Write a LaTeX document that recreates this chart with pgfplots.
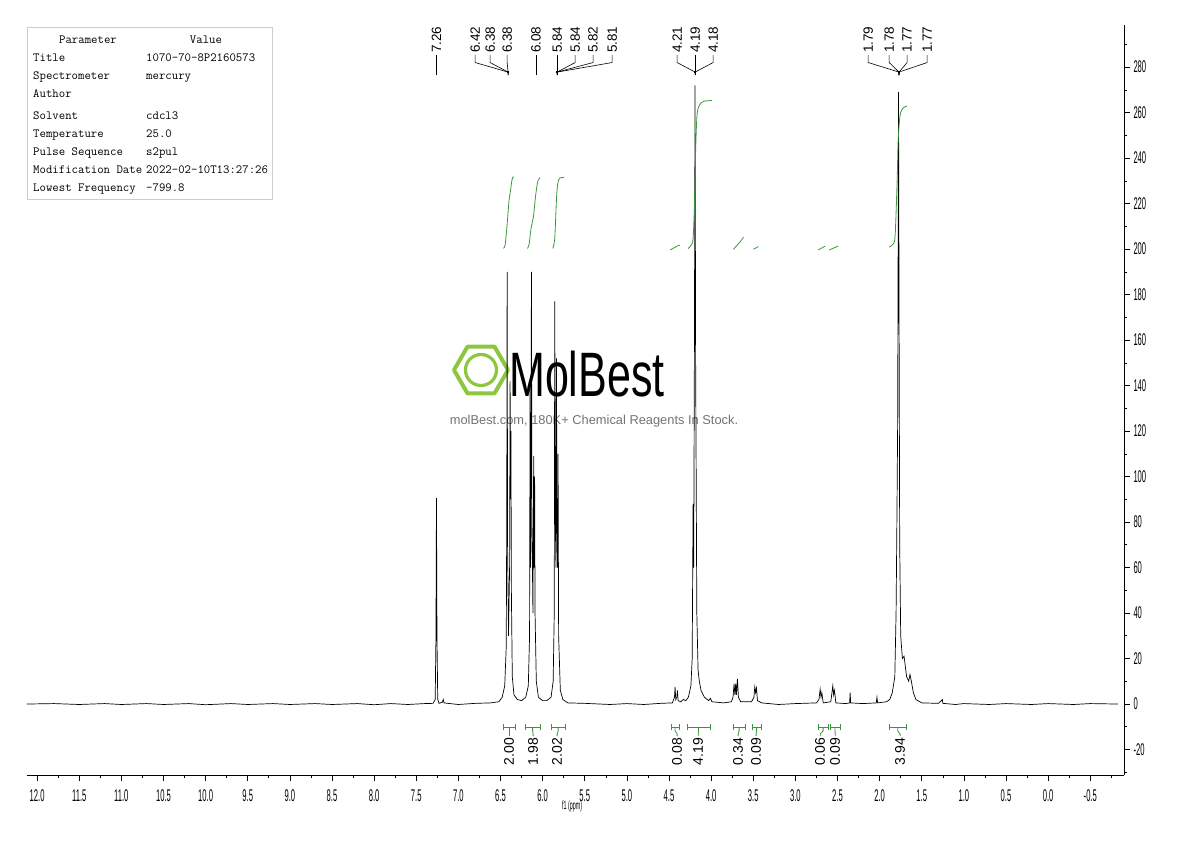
\documentclass[border=0pt]{standalone}
\usepackage{pgfplots}
\pgfplotsset{compat=1.18}
\usepackage{fontspec}
\usepackage{graphicx}
\setmainfont{Liberation Sans}
\newfontfamily\condfont[FakeStretch=0.45]{Liberation Sans}
\definecolor{intgreen}{RGB}{60,150,60}
\definecolor{logogreen}{RGB}{141,198,63}
\definecolor{tblgray}{RGB}{205,205,205}

\newcommand{\pksingle}[2]{%
  \draw[line width=0.6bp] (axis cs:#1,285.3) -- (axis cs:#1,276.5);
  \node[rotate=90, anchor=west, inner sep=0, font=\fontsize{13.5}{13.5}\selectfont] at (axis cs:#1,286.2) {#2};}
\newcommand{\pkgroup}[3]{%
  \draw[line width=0.6bp] (axis cs:#1,285.3) -- (axis cs:#1,282) -- (axis cs:#2,277.8) -- (axis cs:#2,276.5);
  \node[rotate=90, anchor=west, inner sep=0, font=\fontsize{13.5}{13.5}\selectfont] at (axis cs:#1,286.2) {#3};}
\newcommand{\integ}[5]{%
  \draw[intgreen, line width=0.8bp] (axis cs:#1,-8.8) -- (axis cs:#1,-11.4);
  \draw[intgreen, line width=0.8bp] (axis cs:#1,-10.1) -- (axis cs:#2,-10.1);
  \draw[intgreen, line width=0.8bp] (axis cs:#2,-8.8) -- (axis cs:#2,-11.4);
  \draw[intgreen, line width=0.8bp] (axis cs:#3,-10.1) -- (axis cs:#3,-11.8) -- (axis cs:#4,-13.2) -- (axis cs:#4,-14.1);
  \node[rotate=90, anchor=east, inner sep=0, font=\fontsize{14}{14}\selectfont] at (axis cs:#4,-14.8) {#5};}

\pgfplotstableread{
ppm int
12.12 0
11.80 0.2
11.50 -0.2
11.20 0.2
11.00 -0.2
10.70 0.2
10.50 -0.2
10.20 0.2
10.00 -0.3
9.70 0.2
9.50 -0.2
9.20 0.2
9.00 -0.2
8.70 0.2
8.50 -0.2
8.20 0.2
8.00 -0.3
7.80 0.2
7.60 -0.2
7.40 0.2
7.30 0.3
7.275 2
7.266 30
7.260 90.5
7.254 30
7.245 2
7.23 0.3
7.19 0.8
7.18 2
7.17 0.5
7.10 0.2
7.00 -0.2
6.80 0.3
6.62 0.5
6.52 1
6.48 3
6.45 8
6.432 25
6.426 80
6.421 190
6.416 70
6.405 30
6.392 60
6.386 142
6.381 90
6.376 120
6.371 50
6.36 12
6.34 4
6.30 2
6.25 1.5
6.20 3
6.17 8
6.155 30
6.149 140
6.143 60
6.138 100
6.133 190
6.127 80
6.115 40
6.106 109
6.101 60
6.095 100
6.090 40
6.075 10
6.05 3
6.00 1.5
5.95 1.5
5.90 3
5.875 10
5.862 40
5.856 177
5.849 80
5.842 60
5.836 152
5.830 80
5.823 60
5.817 110
5.810 30
5.79 6
5.76 2
5.70 0.5
5.50 0.3
5.20 -0.2
5.00 0.2
4.80 -0.2
4.60 0.3
4.46 0.5
4.435 3
4.428 7.5
4.420 2
4.407 3
4.400 6
4.392 1.5
4.36 1
4.33 2
4.30 1.5
4.27 3
4.24 8
4.225 20
4.214 88
4.207 60
4.199 150
4.191 272
4.184 150
4.178 104
4.170 40
4.155 15
4.140 10
4.120 6
4.080 3
4.030 1.5
4.010 2.5
3.990 1
3.85 0.5
3.76 1
3.74 3
3.728 9
3.718 4
3.708 9
3.700 4
3.688 11
3.676 3
3.65 1
3.52 1
3.492 3
3.482 7.5
3.472 5
3.462 7
3.450 1.5
3.40 0.5
3.20 -0.2
3.00 0.2
2.75 0.5
2.72 2
2.706 6.5
2.696 3
2.686 5
2.67 0.5
2.58 1
2.566 5
2.556 8
2.546 4
2.536 6
2.52 0.5
2.40 0.2
2.356 0.5
2.350 5
2.344 0.5
2.20 0.2
2.040 0.5
2.032 3
2.024 0.5
1.92 1
1.88 2
1.85 5
1.82 12
1.805 40
1.795 81
1.786 125
1.776 269
1.768 150
1.762 70
1.750 30
1.730 20
1.710 21
1.700 18
1.680 12
1.655 10
1.640 13
1.626 10.5
1.600 5
1.570 2
1.50 0.5
1.30 0.3
1.256 2
1.250 0.3
1.10 -0.2
1.00 0.2
0.70 -0.2
0.50 0.2
0.20 -0.2
0.00 0.2
-0.30 -0.2
-0.50 0.2
-0.83 0
}\spectrum

\begin{document}
\begin{tikzpicture}
\path[use as bounding box] (0,0) rectangle (1190bp,-841bp);

\begin{scope}[x=1bp,y=-1bp]
  % watermark
  \draw[logogreen, line width=4bp, line join=round] (481,370) +(0:27) -- +(60:27) -- +(120:27) -- +(180:27) -- +(240:27) -- +(300:27) -- cycle;
  \draw[logogreen, line width=3.2bp] (481,370) circle (15.5);
  \node[anchor=west, inner sep=0] at (509,374) {\scalebox{0.72}[1.05]{\fontsize{60}{60}\selectfont MolBest}};
  \node[text=black!55, inner sep=0] at (594,421) {\fontsize{12.9}{12.9}\selectfont molBest.com, 180K+ Chemical Reagents In Stock.};
  % parameter table
  \draw[tblgray, line width=0.8bp] (27,27) rectangle (272,199);
  \begin{scope}[every node/.style={inner sep=0, font=\ttfamily\fontsize{12.5}{12.5}\selectfont}]
    \node[anchor=base] at (88,43) {Parameter};
    \node[anchor=base] at (206,43) {Value};
    \node[anchor=base west] at (33,61) {Title};
    \node[anchor=base west] at (146,61) {1070-70-8P2160573};
    \node[anchor=base west] at (33,79) {Spectrometer};
    \node[anchor=base west] at (146,79) {mercury};
    \node[anchor=base west] at (33,97) {Author};
    \node[anchor=base west] at (33,119) {Solvent};
    \node[anchor=base west] at (146,119) {cdcl3};
    \node[anchor=base west] at (33,137) {Temperature};
    \node[anchor=base west] at (146,137) {25.0};
    \node[anchor=base west] at (33,155) {Pulse Sequence};
    \node[anchor=base west] at (146,155) {s2pul};
    \node[anchor=base west] at (33,173) {Modification Date};
    \node[anchor=base west] at (146,173) {2022-02-10T13:27:26};
    \node[anchor=base west] at (33,191) {Lowest Frequency};
    \node[anchor=base west] at (146,191) {-799.8};
  \end{scope}
\end{scope}

\begin{axis}[
  at={(27bp,-775bp)}, anchor=south west, scale only axis,
  width=1097bp, height=750bp,
  x dir=reverse, xmin=-0.9, xmax=12.12, ymin=-31.2, ymax=298.5,
  axis x line=bottom, axis y line=right,
  axis line style={-, black, line width=0.8bp},
  clip=false,
  xtick={12,11.5,11,10.5,10,9.5,9,8.5,8,7.5,7,6.5,6,5.5,5,4.5,4,3.5,3,2.5,2,1.5,1,0.5,0,-0.5},
  xticklabels={12.0,11.5,11.0,10.5,10.0,9.5,9.0,8.5,8.0,7.5,7.0,6.5,6.0,5.5,5.0,4.5,4.0,3.5,3.0,2.5,2.0,1.5,1.0,0.5,0.0,-0.5},
  minor xtick={-0.75,-0.25,...,11.75},
  ytick={-20,0,20,40,60,80,100,120,140,160,180,200,220,240,260,280},
  yticklabels={-20,0,20,40,60,80,100,120,140,160,180,200,220,240,260,280},
  minor ytick={-30,-10,10,30,50,70,90,110,130,150,170,190,210,230,250,270,290},
  tick align=outside, major tick length=6bp, minor tick length=3bp,
  tick style={black, line width=0.6bp},
  ticklabel style={font=\condfont\fontsize{17}{17}\selectfont},
  xticklabel style={yshift=-5bp},
  xlabel={f1 (ppm)},
  xlabel style={font=\condfont\fontsize{12}{12}\selectfont, at={(axis description cs:0.497,0)}, anchor=north, yshift=-22bp},
]
\addplot[black, line width=0.7bp] table[x=ppm, y=int] {\spectrum};

% integral curves
\addplot[intgreen, line width=0.8bp, smooth] coordinates {(6.465,200.3) (6.445,201.8) (6.427,208.4) (6.415,213.7) (6.398,221.6) (6.380,226.0) (6.368,229.5) (6.354,231.6) (6.338,231.7)};
\addplot[intgreen, line width=0.8bp, smooth] coordinates {(6.180,200.3) (6.160,202.2) (6.137,209.2) (6.109,214.2) (6.089,221.6) (6.069,227.4) (6.053,230.3) (6.030,231.4)};
\addplot[intgreen, line width=0.8bp, smooth] coordinates {(5.879,200.3) (5.858,203.9) (5.846,212.7) (5.832,224.5) (5.812,230.3) (5.780,231.4) (5.745,231.5)};
\addplot[intgreen, line width=0.8bp, smooth] coordinates {(4.273,200.2) (4.237,201.8) (4.214,204.8) (4.196,221.6) (4.184,243.5) (4.166,259.5) (4.131,263.7) (4.083,265.0) (3.988,265.3)};
\addplot[intgreen, line width=0.8bp, smooth] coordinates {(4.487,199.6) (4.404,201.3) (4.368,201.8)};
\addplot[intgreen, line width=0.8bp, smooth] coordinates {(3.735,199.9) (3.656,203.2) (3.616,205.2)};
\addplot[intgreen, line width=0.8bp, smooth] coordinates {(3.498,199.9) (3.439,201.1)};
\addplot[intgreen, line width=0.8bp, smooth] coordinates {(2.730,199.6) (2.647,201.3)};
\addplot[intgreen, line width=0.8bp, smooth] coordinates {(2.599,199.6) (2.493,201.3)};
\addplot[intgreen, line width=0.8bp, smooth] coordinates {(1.887,200.9) (1.840,202.2) (1.816,206.2) (1.792,230.3) (1.780,247.9) (1.757,258.9) (1.721,262.0) (1.674,262.9)};

% peak labels
\pksingle{7.26}{7.26}
\pkgroup{6.801}{6.41}{6.42}
\pkgroup{6.623}{6.41}{6.38}
\pkgroup{6.421}{6.41}{6.38}
\pksingle{6.08}{6.08}
\pkgroup{5.828}{5.828}{5.84}
\pkgroup{5.614}{5.828}{5.84}
\pkgroup{5.401}{5.828}{5.82}
\pkgroup{5.175}{5.828}{5.81}
\pkgroup{4.404}{4.19}{4.21}
\pkgroup{4.190}{4.19}{4.19}
\pkgroup{3.976}{4.19}{4.18}
\pkgroup{2.136}{1.77}{1.79}
\pkgroup{1.887}{1.77}{1.78}
\pkgroup{1.674}{1.77}{1.77}
\pkgroup{1.436}{1.77}{1.77}
\fill (axis cs:6.41,277.8) +(-1.3bp,-1.3bp) rectangle +(1.3bp,1.3bp);
\fill (axis cs:5.828,277.8) +(-1.3bp,-1.3bp) rectangle +(1.3bp,1.3bp);
\fill (axis cs:4.19,277.8) +(-1.3bp,-1.3bp) rectangle +(1.3bp,1.3bp);
\fill (axis cs:1.77,277.8) +(-1.3bp,-1.3bp) rectangle +(1.3bp,1.3bp);

% integrals
\integ{6.469}{6.326}{6.398}{6.398}{2.00}
\integ{6.208}{6.030}{6.119}{6.113}{1.98}
\integ{5.899}{5.733}{5.816}{5.828}{2.02}
\integ{4.475}{4.380}{4.428}{4.404}{0.08}
\integ{4.285}{4.012}{4.149}{4.154}{4.19}
\integ{3.739}{3.596}{3.668}{3.680}{0.34}
\integ{3.513}{3.407}{3.460}{3.466}{0.09}
\integ{2.730}{2.611}{2.671}{2.706}{0.06}
\integ{2.588}{2.469}{2.529}{2.528}{0.09}
\integ{1.887}{1.685}{1.786}{1.757}{3.94}
\end{axis}
\end{tikzpicture}
\end{document}
